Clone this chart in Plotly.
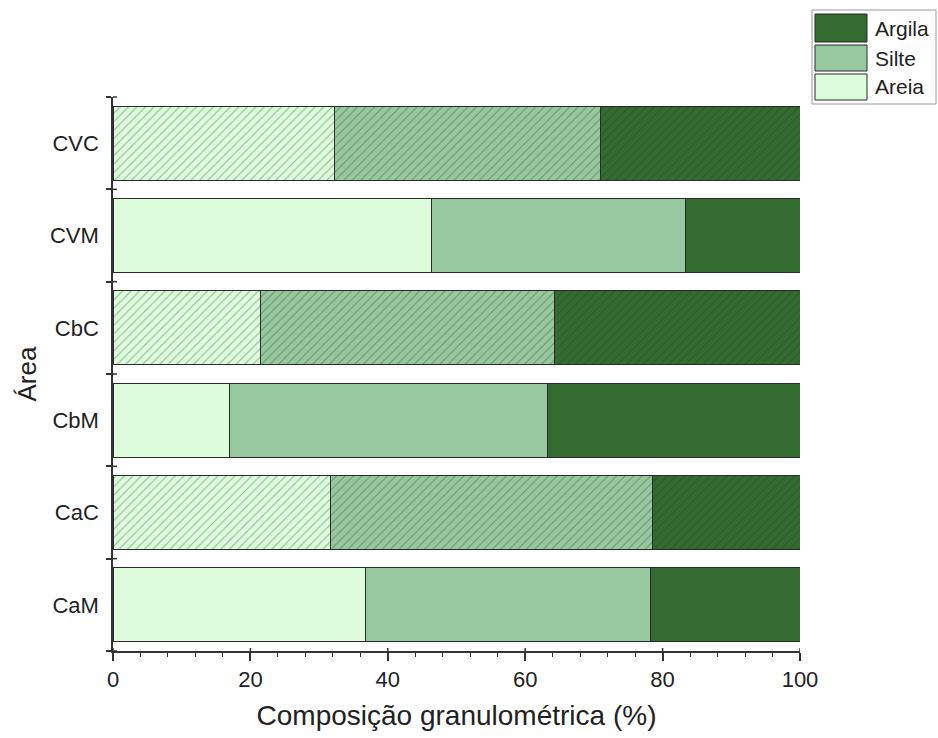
import plotly.graph_objects as go

# Particle-size composition per area (%)
areas = ["CaM", "CaC", "CbM", "CbC", "CVM", "CVC"]
areia = [36.8, 31.7, 17.0, 21.4, 46.3, 32.3]
silte = [41.4, 46.9, 46.3, 42.8, 37.1, 38.7]
argila = [21.8, 21.4, 36.7, 35.8, 16.6, 29.0]
hatched = [False, True, False, True, False, True]

series_names = ["Areia", "Silte", "Argila"]
series_values = [areia, silte, argila]
series_colors = ["#dcfcdc", "#98c8a0", "#336b30"]

FONT = "Liberation Sans, Arial, sans-serif"
pattern_shapes = ["/" if h else "" for h in hatched]

fig = go.Figure()
for name, vals, col in zip(series_names, series_values, series_colors):
    fig.add_trace(go.Bar(
        y=areas, x=vals, name=name, orientation="h",
        width=0.8,
        marker=dict(
            color=col,
            line=dict(color="#2b2b2b", width=1),
            pattern=dict(shape=pattern_shapes, fillmode="overlay",
                         fgcolor="rgba(30,60,30,0.75)", size=6, solidity=0.18),
        ),
        showlegend=False,
    ))

# Legend box drawn in pixel-like paper coordinates
W, H = 938, 738
ml, mr, mt, mb = 113, 138, 97, 87
pw, ph = W - ml - mr, H - mt - mb


def px(x):
    return (x - ml) / pw


def py(y):
    return (H - mb - y) / ph


shapes = [dict(type="rect", xref="paper", yref="paper",
               x0=px(812), x1=px(936), y0=py(104), y1=py(10),
               line=dict(color="#9a9a9a", width=1), fillcolor="white", layer="above")]
annotations = []
rows = [(14, 42), (45, 71), (74, 100)]
for (y0, y1), name, col in zip(rows, series_names[::-1], series_colors[::-1]):
    shapes.append(dict(type="rect", xref="paper", yref="paper",
                       x0=px(815), x1=px(867), y0=py(y1), y1=py(y0),
                       line=dict(color="#2b2b2b", width=1), fillcolor=col, layer="above"))
    annotations.append(dict(xref="paper", yref="paper", x=px(873), y=py((y0 + y1) / 2),
                            text=name, showarrow=False, xanchor="left", yanchor="middle",
                            font=dict(family=FONT, size=21, color="#222")))

# Small upward extensions of the major x ticks and rightward y ticks (cross ticks)
for v in range(0, 101, 20):
    shapes.append(dict(type="line", xref="x", yref="paper", x0=v, x1=v,
                       y0=0, y1=3 / ph, line=dict(color="#333", width=1.5)))
for k in range(7):
    yy = (k * ph / 6) / ph
    shapes.append(dict(type="line", xref="paper", yref="paper", x0=0, x1=4 / pw,
                       y0=yy, y1=yy, line=dict(color="#333", width=1.5)))

fig.update_layout(
    barmode="stack",
    width=W, height=H,
    margin=dict(l=ml, r=mr, t=mt, b=mb, pad=0),
    paper_bgcolor="white", plot_bgcolor="white",
    font=dict(family=FONT, size=22, color="#222"),
    shapes=shapes, annotations=annotations,
    xaxis=dict(
        range=[0, 100], dtick=20, tick0=0,
        showline=True, linecolor="#333", linewidth=1.5,
        ticks="outside", ticklen=8, tickwidth=1.5, tickcolor="#333",
        minor=dict(dtick=4, ticks="outside", ticklen=4, tickcolor="#333", tickwidth=1),
        showgrid=False, zeroline=False,
        tickfont=dict(size=22),
        title=dict(text="Composição granulométrica (%)", font=dict(size=28), standoff=14),
    ),
    yaxis=dict(
        range=[-0.5, 5.5],
        showline=True, linecolor="#333", linewidth=1.5,
        ticks="outside", tickson="boundaries", ticklen=5, tickwidth=1.5, tickcolor="#333",
        showgrid=False, zeroline=False,
        tickfont=dict(size=22),
        ticklabelstandoff=8,
        title=dict(text="Área", font=dict(size=26), standoff=6),
    ),
)

fig.write_html("out.html")
